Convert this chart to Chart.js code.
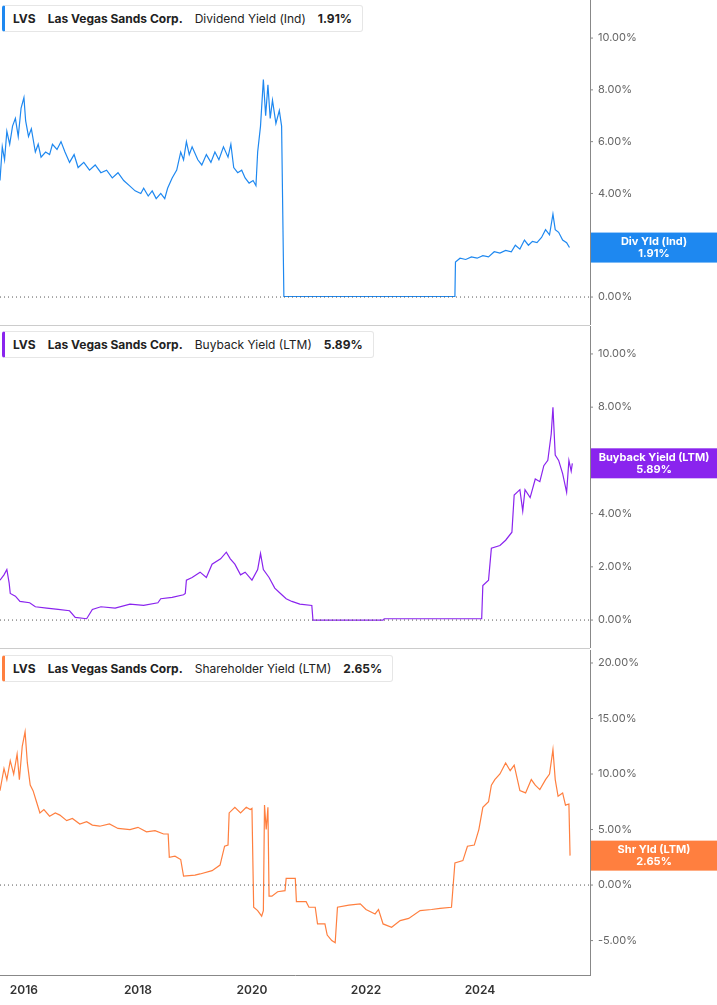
<!DOCTYPE html>
<html>
<head>
<meta charset="utf-8">
<script src="https://cdn.jsdelivr.net/npm/chart.js@4"></script>
<style>
  body { margin: 0; background: #fff; font-family: Inter, "Noto Sans", sans-serif; }
  .panel { position: absolute; left: 0; width: 717px; }
  .panel canvas { display: block; }
  .legend { position: absolute; left: 2px; top: 5px; height: 25px; background: #fff; border: 1px solid #e6e6e6;
            border-left: 3px solid; border-radius: 3px; font-size: 12px; line-height: 25px; padding: 0 10px 0 8px;
            color: #222; white-space: nowrap; z-index: 2; }
  .legend b { font-weight: 700; }
  .legend span { margin-right: 12px; }
  .sep { position: absolute; left: 0; width: 590px; height: 1px; background: #ccc; }
</style>
</head>
<body>
<div class="panel" style="top:0;height:325px"><canvas id="c1" width="717" height="325"></canvas>
  <div class="legend" style="border-left-color:#1e88f0"><span><b>LVS</b></span><span><b>Las Vegas Sands Corp.</b></span><span>Dividend Yield (Ind)</span><b>1.91%</b></div></div>
<div class="sep" style="top:325px"></div>
<div class="panel" style="top:326px;height:322px"><canvas id="c2" width="717" height="322"></canvas>
  <div class="legend" style="border-left-color:#8a24ee"><span><b>LVS</b></span><span><b>Las Vegas Sands Corp.</b></span><span>Buyback Yield (LTM)</span><b>5.89%</b></div></div>
<div class="sep" style="top:648px"></div>
<div class="panel" style="top:650px;height:355px"><canvas id="c3" width="717" height="355"></canvas>
  <div class="legend" style="border-left-color:#ff7f3f"><span><b>LVS</b></span><span><b>Las Vegas Sands Corp.</b></span><span>Shareholder Yield (LTM)</span><b>2.65%</b></div></div>
<script>
const xTicks = [2016, 2018, 2020, 2022, 2024];
const divTicks = [0, 2, 4, 6, 8, 10];
const buyTicks = [0, 2, 4, 6, 8, 10];
const shrTicks = [-5, 0, 5, 10, 15, 20];

const divYield = [[2015.58,4.5],[2015.62,5.8],[2015.66,5.3],[2015.70,6.4],[2015.75,5.9],[2015.8,6.6],[2015.85,6.9],[2015.9,6.2],[2015.95,7.3],[2016.0,7.7],[2016.03,6.8],[2016.08,6.2],[2016.13,6.5],[2016.2,5.6],[2016.25,5.9],[2016.3,5.4],[2016.38,5.6],[2016.45,5.5],[2016.5,5.9],[2016.58,5.7],[2016.65,6.0],[2016.72,5.6],[2016.8,5.2],[2016.88,5.5],[2016.95,5.0],[2017.05,5.2],[2017.15,4.9],[2017.25,5.1],[2017.35,4.8],[2017.45,4.9],[2017.55,4.6],[2017.65,4.8],[2017.75,4.5],[2017.85,4.3],[2017.95,4.1],[2018.05,4.0],[2018.1,4.2],[2018.18,3.9],[2018.25,4.1],[2018.32,3.8],[2018.4,4.0],[2018.47,3.8],[2018.52,4.2],[2018.6,4.6],[2018.68,4.9],[2018.75,5.6],[2018.8,5.3],[2018.85,6.0],[2018.9,5.5],[2018.95,5.8],[2019.05,5.3],[2019.12,5.1],[2019.2,5.5],[2019.28,5.2],[2019.35,5.6],[2019.42,5.3],[2019.5,5.8],[2019.58,5.4],[2019.63,5.9],[2019.68,5.0],[2019.75,4.8],[2019.82,4.9],[2019.88,4.6],[2019.95,4.4],[2020.02,4.5],[2020.07,4.3],[2020.1,5.6],[2020.15,6.6],[2020.2,8.4],[2020.24,7.0],[2020.28,8.2],[2020.32,6.9],[2020.36,7.6],[2020.42,6.7],[2020.48,7.2],[2020.52,6.6],[2020.56,0.02],[2023.56,0.02],[2023.57,1.35],[2023.65,1.5],[2023.75,1.45],[2023.85,1.55],[2023.95,1.5],[2024.05,1.6],[2024.15,1.55],[2024.25,1.75],[2024.35,1.7],[2024.45,1.8],[2024.55,1.75],[2024.62,2.0],[2024.7,1.85],[2024.78,2.2],[2024.85,2.0],[2024.92,2.15],[2025.0,2.1],[2025.08,2.3],[2025.15,2.6],[2025.22,2.4],[2025.28,3.2],[2025.32,2.6],[2025.38,2.5],[2025.45,2.2],[2025.52,2.1],[2025.57,1.91]];

const buybackYield = [[2015.58,1.5],[2015.65,1.7],[2015.7,1.9],[2015.74,1.4],[2015.76,1.0],[2015.85,0.9],[2015.93,0.7],[2016.1,0.65],[2016.2,0.5],[2016.4,0.45],[2016.6,0.4],[2016.8,0.35],[2016.9,0.1],[2017.1,0.05],[2017.2,0.4],[2017.35,0.5],[2017.6,0.45],[2017.86,0.6],[2018.1,0.55],[2018.35,0.65],[2018.4,0.8],[2018.6,0.85],[2018.8,0.95],[2018.83,1.0],[2018.85,1.5],[2018.95,1.6],[2019.09,1.8],[2019.2,1.6],[2019.3,2.1],[2019.45,2.3],[2019.55,2.55],[2019.62,2.3],[2019.7,2.1],[2019.8,1.7],[2019.88,1.8],[2020.0,1.5],[2020.1,1.9],[2020.15,2.5],[2020.2,1.9],[2020.3,1.6],[2020.4,1.2],[2020.5,1.0],[2020.6,0.8],[2020.7,0.7],[2020.84,0.6],[2021.05,0.55],[2021.07,0.0],[2022.3,0.0],[2022.32,0.05],[2023.5,0.05],[2024.03,0.05],[2024.05,1.3],[2024.15,1.5],[2024.2,2.7],[2024.35,2.8],[2024.45,3.0],[2024.56,3.3],[2024.6,4.7],[2024.7,4.9],[2024.75,4.1],[2024.79,4.9],[2024.88,4.6],[2024.97,5.3],[2025.05,5.2],[2025.12,5.8],[2025.19,6.0],[2025.25,7.0],[2025.28,8.0],[2025.32,6.2],[2025.38,6.0],[2025.45,5.5],[2025.52,4.8],[2025.56,6.0],[2025.6,5.6],[2025.62,5.89]];

const shareholderYield = [[2015.58,8.5],[2015.65,10.5],[2015.7,9.5],[2015.76,11.2],[2015.82,10.0],[2015.88,11.8],[2015.92,9.5],[2015.97,12.5],[2016.02,13.8],[2016.06,11.0],[2016.11,9.0],[2016.16,8.5],[2016.22,7.5],[2016.28,6.5],[2016.35,6.8],[2016.45,6.2],[2016.55,6.5],[2016.63,6.3],[2016.75,5.8],[2016.85,6.0],[2016.98,5.5],[2017.1,5.7],[2017.2,5.4],[2017.33,5.3],[2017.5,5.5],[2017.65,5.1],[2017.86,5.0],[2018.0,5.2],[2018.15,4.8],[2018.3,4.9],[2018.45,4.6],[2018.53,4.6],[2018.55,2.5],[2018.65,2.6],[2018.75,2.3],[2018.8,0.8],[2019.0,0.9],[2019.09,1.0],[2019.3,1.3],[2019.44,1.8],[2019.52,3.5],[2019.58,3.6],[2019.6,6.5],[2019.7,7.0],[2019.8,6.5],[2019.9,7.0],[2019.97,6.8],[2020.0,6.9],[2020.03,-2.0],[2020.1,-2.3],[2020.17,-2.8],[2020.2,-2.3],[2020.22,7.2],[2020.25,5.0],[2020.28,7.0],[2020.3,-1.0],[2020.35,-1.0],[2020.45,-0.6],[2020.58,-0.5],[2020.6,0.6],[2020.76,0.6],[2020.78,-1.5],[2020.95,-1.5],[2021.0,-2.0],[2021.11,-2.0],[2021.15,-3.5],[2021.28,-3.5],[2021.32,-4.5],[2021.4,-5.0],[2021.46,-5.2],[2021.5,-2.0],[2021.7,-1.8],[2021.9,-1.7],[2022.0,-2.2],[2022.16,-2.6],[2022.22,-2.2],[2022.3,-3.5],[2022.45,-3.8],[2022.6,-3.2],[2022.75,-3.0],[2022.95,-2.3],[2023.15,-2.2],[2023.3,-2.1],[2023.5,-2.0],[2023.56,2.0],[2023.7,2.2],[2023.78,3.5],[2023.9,3.6],[2023.98,5.0],[2024.05,7.0],[2024.15,7.5],[2024.2,9.0],[2024.26,9.5],[2024.35,10.0],[2024.45,11.0],[2024.53,10.3],[2024.6,10.8],[2024.7,8.5],[2024.8,8.3],[2024.9,9.5],[2024.97,9.0],[2025.05,8.6],[2025.15,9.5],[2025.22,10.0],[2025.28,12.2],[2025.32,9.5],[2025.37,8.0],[2025.45,8.3],[2025.5,7.2],[2025.56,7.3],[2025.58,2.65]];

// zero line, y labels and last-value tag drawn on top of the chart
const tagPlugin = {
  id: 'tag',
  afterDatasetsDraw(chart, args, opts) {
    const { ctx, chartArea, scales } = chart;
    const y0 = scales.y.getPixelForValue(0);
    ctx.save();
    ctx.strokeStyle = '#555'; ctx.lineWidth = 1; ctx.setLineDash([1, 3]);
    ctx.beginPath(); ctx.moveTo(0, y0); ctx.lineTo(chartArea.right, y0); ctx.stroke();
    ctx.setLineDash([]);
    ctx.font = '11px Inter, sans-serif'; ctx.fillStyle = '#666'; ctx.textBaseline = 'middle'; ctx.textAlign = 'left';
    ctx.strokeStyle = '#888';
    opts.ticks.forEach(v => {
      const y = scales.y.getPixelForValue(v);
      ctx.beginPath(); ctx.moveTo(chartArea.right, y); ctx.lineTo(chartArea.right + 3, y); ctx.stroke();
      ctx.fillText(v.toFixed(2) + '%', chartArea.right + 8, y);
    });
    const ds = chart.data.datasets[0].data;
    const yv = scales.y.getPixelForValue(ds[ds.length - 1].y);
    const left = chartArea.right + 1;
    ctx.fillStyle = opts.color;
    ctx.fillRect(left, yv - 15, chart.width - left, 30);
    ctx.fillStyle = '#fff'; ctx.textAlign = 'center';
    ctx.font = 'bold 11px Inter, sans-serif';
    const cx = left + (chart.width - left) / 2;
    ctx.fillText(opts.label, cx, yv - 6);
    ctx.fillText(opts.value, cx, yv + 6);
    ctx.restore();
  }
};

function makeChart(id, data, color, ticks, min, max, label, value, showX) {
  return new Chart(document.getElementById(id).getContext('2d'), {
    type: 'line',
    data: { datasets: [{ data: data.map(p => ({ x: p[0], y: p[1] })), borderColor: color, borderWidth: 1.2, pointRadius: 0, tension: 0 }] },
    options: {
      responsive: false, animation: false,
      layout: { padding: 0 },
      plugins: { legend: { display: false }, tooltip: { enabled: false }, tag: { color, label, value, ticks } },
      scales: {
        x: {
          type: 'linear', min: 2015.58, max: 2025.93, display: showX,
          afterBuildTicks: s => { s.ticks = xTicks.map(v => ({ value: v })); },
          afterFit: s => { s.height = showX ? 30 : 0; },
          grid: { display: false, drawOnChartArea: false, tickLength: 5, color: '#888' },
          border: { color: '#888' },
          ticks: { color: '#333', font: { family: 'Inter', size: 12, weight: '600' }, callback: v => String(v), maxRotation: 0 }
        },
        y: {
          position: 'right', min, max,
          afterFit: s => { s.width = 127; },
          grid: { display: false },
          border: { color: '#888' },
          ticks: { display: false }
        }
      }
    },
    plugins: [tagPlugin]
  });
}

makeChart('c1', divYield, '#1e88f0', divTicks, -1.08, 11.47, 'Div Yld (Ind)', '1.91%', false);
makeChart('c2', buybackYield, '#8a24ee', buyTicks, -1.05, 11.05, 'Buyback Yield (LTM)', '5.89%', false);
makeChart('c3', shareholderYield, '#ff7f3f', shrTicks, -8.1, 21.17, 'Shr Yld (LTM)', '2.65%', true);
</script>
</body>
</html>
